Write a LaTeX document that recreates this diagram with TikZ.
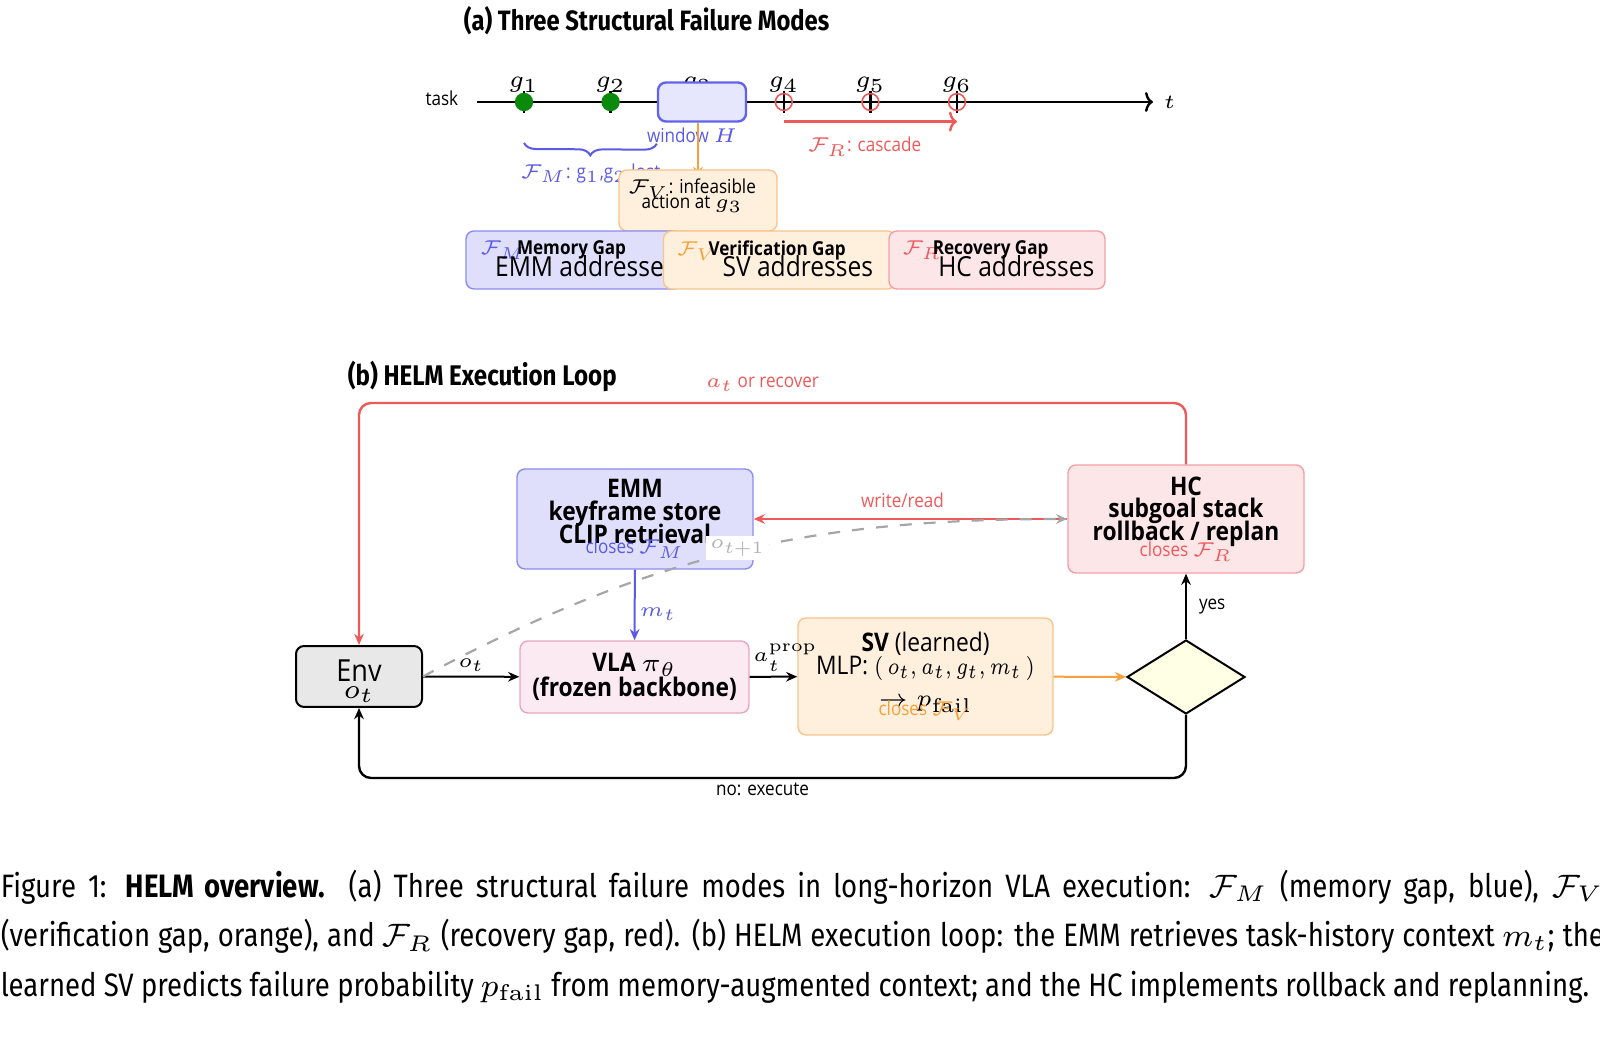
\RequirePackage{fix-cm}
\documentclass[tikz,border=0pt]{standalone}
\usepackage[no-math]{fontspec}
\setmainfont{Open Sans}[FakeStretch=0.89]
\newfontfamily\capfont{Fira Sans}[FakeStretch=0.85]
\usepackage{xcolor}
\usepackage{graphicx}
\usetikzlibrary{positioning,arrows.meta,shapes.geometric,decorations.pathreplacing}

\definecolor{memblue}{HTML}{5A5AE6}
\definecolor{memfill}{HTML}{DFDFFC}
\definecolor{memline}{HTML}{8C8CF0}
\definecolor{winblue}{HTML}{6262EE}
\definecolor{winfill}{HTML}{E6E6FC}
\definecolor{veroran}{HTML}{F5A03C}
\definecolor{verfill}{HTML}{FFF0DE}
\definecolor{verline}{HTML}{F6C48C}
\definecolor{recred}{HTML}{EE5A5A}
\definecolor{recfill}{HTML}{FDE6E8}
\definecolor{recline}{HTML}{F2A0A6}
\definecolor{vlafill}{HTML}{FBEAF1}
\definecolor{vlaline}{HTML}{E8A6BE}
\definecolor{envfill}{HTML}{E8E8E8}
\definecolor{decfill}{HTML}{FFFFE6}
\definecolor{dotgreen}{HTML}{0A8A0A}

\DeclareMathSizes{4.8}{5}{4.3}{4}
\DeclareMathSizes{6.4}{6.4}{5}{4.3}
\DeclareMathSizes{6}{6}{5}{4.5}
\DeclareMathSizes{7.6}{6.8}{5.4}{4.5}
\lineskiplimit=-20pt
\newcommand\closesnote[2]{{\mdseries\fontsize{4.8}{4.8}\selectfont\color{#1}closes $\mathcal{F}_{#2}$}}

\begin{document}
\begin{tikzpicture}[x=0.25pt,y=-0.25pt,
  block/.style={draw,rounded corners=2pt,align=center,inner sep=1pt,line width=0.35pt,
    font=\fontsize{6.4}{5.7}\selectfont\bfseries},
  gapcard/.style={draw,rounded corners=2pt,line width=0.35pt,minimum height=14.5pt},
  lbl/.style={font=\fontsize{4.8}{5}\selectfont,inner sep=1pt},
  link/.style={-{Stealth[length=2.8pt,width=2.4pt]},line width=0.5pt},
  timeaxis/.style={line width=0.6pt,-{To[length=2pt,width=5pt]}}]
\useasboundingbox (0,0) rectangle (1600,1056);

% (a) failure modes on the task timeline
\node[anchor=west,inner sep=0pt,font=\capfont\fontsize{7}{7}\selectfont\bfseries] (titlea) at (463,21) {(a) Three Structural Failure Modes};
\coordinate (tstart) at (477,102);
\coordinate (tend) at (1153,102);
\draw[timeaxis] (tstart) -- (tend);
\node[lbl,right=1.5pt of tend] (tlabel) {$t$};
\node[lbl,left=3.5pt of tstart,yshift=1pt] (tasklabel) {task};
\foreach \i in {1,...,6}{
  \coordinate (g\i) at ({524+(\i-1)*86.6},102);
  \draw[line width=0.6pt] ([yshift=2.8pt]g\i) -- ([yshift=-2.8pt]g\i);
  \node[above=2.2pt of g\i,inner sep=0pt,font=\fontsize{6}{6}\selectfont] (gl\i) {$g_{\i}$};
}
\foreach \i in {1,2}
  \node[circle,fill=dotgreen,inner sep=0pt,minimum size=4.6pt] (dot\i) at (g\i) {};
\foreach \i in {4,5,6}
  \node[circle,draw=recred,line width=0.4pt,inner sep=0pt,minimum size=4.2pt] (ring\i) at (g\i) {};
\node[draw=winblue,fill=winfill,line width=0.6pt,rounded corners=2pt,
  minimum width=22pt,minimum height=9.75pt] (window) at (702,102) {};
\node[lbl,text=memblue,below=0pt of window,xshift=-2.5pt] (windowlabel) {window $H$};
\draw[memblue,line width=0.5pt,decorate,decoration={brace,mirror,amplitude=3pt}]
  ([yshift=-10.25pt]g1) -- ([yshift=-5.25pt]window.south west)
  node[lbl,text=memblue,midway,below=3.8pt] (fmlabel) {$\mathcal{F}_M$: g$_1$,g$_2$ lost};
\draw[recred,timeaxis] ([yshift=-4.9pt]g4) -- ([yshift=-4.9pt]g6)
  node[lbl,text=recred,midway,below=2.5pt,xshift=-1.5pt] (frlabel) {$\mathcal{F}_R$: cascade};
\coordinate (fvtip) at (698,178);
\draw[veroran,link] (window.south -| fvtip) -- (fvtip);
\node[draw=verline,fill=verfill,rounded corners=2pt,line width=0.35pt,
  minimum width=39.5pt,minimum height=15.25pt] (fvbox) at (698,200.5) {};
\node[lbl,align=center,font=\fontsize{4.8}{3.75}\selectfont,xshift=-1.5pt,yshift=1.25pt] (fvtext) at (fvbox.center) {$\mathcal{F}_V$: infeasible\\action at $g_3$};

\node[gapcard,draw=memline,fill=memfill,minimum width=54pt] (memgap) at (574,260) {};
\node[anchor=west,inner sep=0pt,font=\fontsize{4.8}{5}\selectfont] (memhead) at ([xshift=3.5pt,yshift=2.4pt]memgap.west) {\textcolor{memblue}{$\mathcal{F}_M$}\hspace{-2.2pt}\textbf{Memory Gap}};
\node[anchor=west,inner sep=0pt,font=\fontsize{6.9}{7}\selectfont] (memuse) at ([xshift=7.25pt,yshift=-1.5pt]memgap.west) {EMM addresses};
\node[gapcard,draw=verline,fill=verfill,minimum width=58pt] (vergap) at (779.5,260) {};
\node[anchor=west,inner sep=0pt,font=\fontsize{4.8}{5}\selectfont] (verhead) at ([xshift=3.25pt,yshift=2.4pt]vergap.west) {\textcolor{veroran}{$\mathcal{F}_V$}\hspace{-2.2pt}\textbf{Verification Gap}};
\node[anchor=west,inner sep=0pt,font=\fontsize{6.9}{7}\selectfont] (veruse) at ([xshift=14.75pt,yshift=-1.5pt]vergap.west) {SV addresses};
\node[gapcard,draw=recline,fill=recfill,minimum width=54pt] (recgap) at (997,260) {};
\node[anchor=west,inner sep=0pt,font=\fontsize{4.8}{5}\selectfont] (rechead) at ([xshift=3.25pt,yshift=2.4pt]recgap.west) {\textcolor{recred}{$\mathcal{F}_R$}\hspace{-2.2pt}\textbf{Recovery Gap}};
\node[anchor=west,inner sep=0pt,font=\fontsize{6.9}{7}\selectfont] (recuse) at ([xshift=12.3pt,yshift=-1.5pt]recgap.west) {HC addresses};

% (b) execution loop
\node[anchor=west,inner sep=0pt,font=\capfont\fontsize{7.1}{7}\selectfont\bfseries] (titleb) at (347,376) {(b) HELM Execution Loop};
\node[block,draw=black,line width=0.5pt,fill=envfill,minimum width=31.5pt,minimum height=14.75pt,
  font=\fontsize{7.6}{4.2}\selectfont] (env) at (359,676.5) {\rule{0pt}{7.9pt}Env\\$o_t$};
\node[block,draw=vlaline,fill=vlafill,minimum width=57.25pt,minimum height=18pt,
  font=\fontsize{6.4}{6.4}\selectfont\bfseries] (vla) at (634.5,677) {VLA $\pi_\theta$\\(frozen backbone)};
\node[block,draw=memline,fill=memfill,minimum width=59pt,minimum height=25pt] (emm) at (635,519)
  {EMM\\keyframe store\\CLIP retrieval\\[-3.2pt]\closesnote{memblue}{M}};
\node[block,draw=verline,fill=verfill,minimum width=63.75pt,minimum height=29.25pt,
  font=\fontsize{6.4}{5.75}\selectfont] (sv) at (925.5,676.5)
  {\textbf{SV} (learned)\\MLP: {\fontsize{6}{6}\selectfont\scalebox{0.8}[1]{$(\,o_t,a_t,g_t,m_t\,)$}}\\[2.25pt]{\fontsize{6}{6}\selectfont$\to p_{\mathrm{fail}}$}\\[-3.5pt]\closesnote{veroran}{V}};
\node[block,draw=recline,fill=recfill,minimum width=59pt,minimum height=27pt] (hc) at (1186,519)
  {HC\\subgoal stack\\rollback / replan\\[-1.7pt]\closesnote{recred}{R}};
\node[diamond,draw,line width=0.5pt,fill=decfill,inner sep=0pt,
  minimum width=29.5pt,minimum height=18.5pt] (decide) at (1186,677) {};
\coordinate (toprail) at (0,403);
\coordinate (lowrail) at (0,778);

\draw[link] (env) -- node[lbl,above] (otlabel) {$o_t$} (vla);
\draw[link] (vla) -- node[lbl,above,xshift=3pt] (aplabel) {$a_t^{\mathrm{prop}}$} (sv);
\draw[link,veroran] (sv) -- (decide);
\draw[link,memblue] (emm) -- node[lbl,right,yshift=-2.2pt,text=memblue] (mtlabel) {$m_t$} (vla);
\draw[link] (decide) -- node[lbl,right=2pt] (yeslabel) {yes} (hc);
\draw[link,recred] (hc) -- node[lbl,above=1.5pt,xshift=-2pt,text=recred] (wrlabel) {write/read} (emm);
\draw[link,gray!70,dashed,line width=0.55pt] (env.east) to[out=28,in=180]
  node[fill=white,inner sep=1pt,text=gray!60,lbl,yshift=1pt,xshift=1pt] (nextobs) {$o_{t+1}$} (hc.west);
\draw[link,rounded corners=3pt,line width=0.6pt] (decide.south) |- (env.south |- lowrail)
  node[lbl,pos=0.75,below=0pt,xshift=-2.5pt] (nolabel) {no: execute} -- (env.south);
\draw[link,recred,rounded corners=3pt,line width=0.6pt] (hc.north) |- (env.north |- toprail)
  node[lbl,pos=0.75,above=1.5pt,xshift=-2.5pt,text=recred] (reclabel) {$a_t$ or recover} -- (env.north);

% caption
\node[anchor=north west,inner sep=0pt,align=left,font=\capfont\fontsize{8.1}{12.4}\selectfont] (caption) at (0,869)
  {\makebox[400.8pt][s]{Figure 1: \textbf{HELM overview.} (a) Three structural failure modes in long-horizon VLA execution: $\mathcal{F}_M$ (memory gap, blue), $\mathcal{F}_V$}\\
   \makebox[400.8pt][s]{(verification gap, orange), and $\mathcal{F}_R$ (recovery gap, red). (b) HELM execution loop: the EMM retrieves task-history context $m_t$; the}\\
   learned SV predicts failure probability $p_{\mathrm{fail}}$ from memory-augmented context; and the HC implements rollback and replanning.};
\end{tikzpicture}
\end{document}
